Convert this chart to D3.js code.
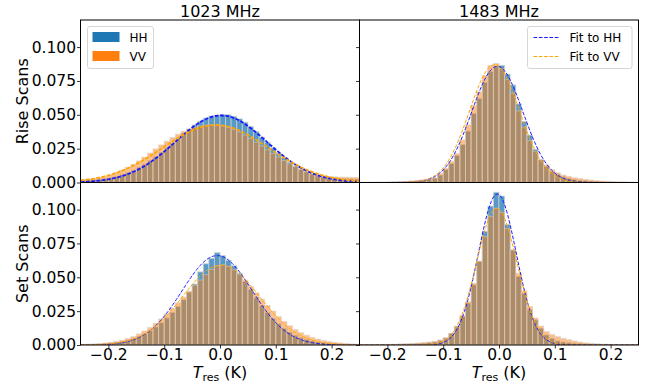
<!DOCTYPE html>
<html>
<head>
<meta charset="utf-8">
<script src="https://cdn.jsdelivr.net/npm/d3@7"></script>
<style>
  body { margin: 0; background: #fff; }
  svg { display: block; font-family: "DejaVu Sans", sans-serif; }
</style>
</head>
<body>
<div id="chart"></div>
<script>
// histogram bins: 0.01 wide, from -0.25 to 0.25 (fraction of scans per bin)
const binStart = -0.25;
const binWidth = 0.01;

const rise1023HH = [0.0015,0.0017,0.0020,0.0024,0.0029,0.0036,0.0045,0.0057,0.0072,0.0090,
  0.0110,0.0135,0.0162,0.0190,0.0222,0.0255,0.0290,0.0325,0.0362,0.0395,
  0.0425,0.0452,0.0475,0.0490,0.0498,0.0502,0.0500,0.0488,0.0470,0.0445,
  0.0412,0.0375,0.0335,0.0295,0.0255,0.0218,0.0183,0.0150,0.0122,0.0098,
  0.0078,0.0062,0.0050,0.0041,0.0035,0.0031,0.0029,0.0027,0.0026,0.0025];
const rise1023VV = [0.0022,0.0026,0.0030,0.0036,0.0045,0.0058,0.0074,0.0092,0.0112,0.0135,
  0.0160,0.0188,0.0218,0.0248,0.0278,0.0305,0.0332,0.0357,0.0378,0.0395,
  0.0408,0.0418,0.0424,0.0426,0.0424,0.0418,0.0408,0.0393,0.0373,0.0350,
  0.0325,0.0298,0.0270,0.0242,0.0215,0.0188,0.0162,0.0138,0.0117,0.0098,
  0.0082,0.0069,0.0058,0.0050,0.0045,0.0042,0.0040,0.0039,0.0038,0.0037];

const rise1483HH = [0.0001,0.0001,0.0001,0.0002,0.0002,0.0003,0.0004,0.0005,0.0007,0.0009,
  0.0012,0.0016,0.0022,0.0032,0.0055,0.0095,0.0140,0.0200,0.0280,0.0380,
  0.0510,0.0620,0.0740,0.0820,0.0860,0.0865,0.0800,0.0720,0.0580,0.0450,
  0.0350,0.0245,0.0167,0.0118,0.0081,0.0060,0.0042,0.0030,0.0022,0.0016,
  0.0012,0.0009,0.0007,0.0005,0.0004,0.0003,0.0002,0.0002,0.0001,0.0001];
const rise1483VV = [0.0001,0.0001,0.0002,0.0002,0.0003,0.0004,0.0005,0.0007,0.0009,0.0012,
  0.0016,0.0020,0.0025,0.0035,0.0065,0.0105,0.0155,0.0215,0.0315,0.0425,
  0.0570,0.0670,0.0790,0.0865,0.0880,0.0840,0.0760,0.0660,0.0530,0.0410,
  0.0310,0.0230,0.0170,0.0130,0.0095,0.0072,0.0055,0.0045,0.0036,0.0029,
  0.0023,0.0018,0.0014,0.0011,0.0009,0.0007,0.0005,0.0004,0.0003,0.0002];

const set1023HH = [0.0003,0.0004,0.0005,0.0007,0.0010,0.0014,0.0019,0.0026,0.0035,0.0047,
  0.0063,0.0083,0.0106,0.0133,0.0164,0.0200,0.0240,0.0285,0.0335,0.0390,
  0.0450,0.0540,0.0600,0.0640,0.0682,0.0660,0.0625,0.0585,0.0530,0.0470,
  0.0410,0.0350,0.0292,0.0240,0.0195,0.0156,0.0122,0.0095,0.0072,0.0054,
  0.0040,0.0030,0.0022,0.0016,0.0012,0.0009,0.0007,0.0005,0.0004,0.0003];
const set1023VV = [0.0005,0.0006,0.0008,0.0011,0.0015,0.0020,0.0027,0.0036,0.0048,0.0063,
  0.0082,0.0104,0.0130,0.0160,0.0193,0.0230,0.0270,0.0312,0.0355,0.0398,
  0.0440,0.0480,0.0520,0.0558,0.0585,0.0592,0.0580,0.0555,0.0520,0.0478,
  0.0432,0.0385,0.0338,0.0292,0.0250,0.0210,0.0174,0.0142,0.0114,0.0091,
  0.0072,0.0056,0.0044,0.0034,0.0026,0.0020,0.0015,0.0011,0.0008,0.0006];

const set1483HH = [0.0001,0.0001,0.0001,0.0002,0.0002,0.0003,0.0004,0.0005,0.0006,0.0008,
  0.0010,0.0013,0.0017,0.0022,0.0032,0.0050,0.0086,0.0136,0.0210,0.0309,
  0.0444,0.0617,0.0840,0.1025,0.1128,0.1100,0.0890,0.0704,0.0506,0.0380,
  0.0260,0.0185,0.0123,0.0074,0.0049,0.0030,0.0022,0.0016,0.0012,0.0009,
  0.0007,0.0005,0.0004,0.0003,0.0002,0.0002,0.0001,0.0001,0.0001,0.0001];
const set1483VV = [0.0002,0.0002,0.0003,0.0003,0.0004,0.0005,0.0006,0.0008,0.0010,0.0012,
  0.0015,0.0018,0.0022,0.0028,0.0038,0.0055,0.0085,0.0140,0.0218,0.0320,
  0.0455,0.0620,0.0800,0.0950,0.1010,0.0980,0.0860,0.0700,0.0530,0.0400,
  0.0285,0.0200,0.0140,0.0100,0.0078,0.0062,0.0050,0.0040,0.0030,0.0022,
  0.0016,0.0012,0.0009,0.0007,0.0005,0.0004,0.0003,0.0003,0.0002,0.0002];

// gaussian fits: [peak, mean, sigma]
const fitRise1023HH = [0.0495, 0.002, 0.082];
const fitRise1023VV = [0.0425, -0.008, 0.094];
const fitRise1483HH = [0.0858, -0.003, 0.046];
const fitRise1483VV = [0.0870, -0.008, 0.045];
const fitSet1023HH = [0.0660, -0.005, 0.063];
const fitSet1023VV = [0.0590, 0.002, 0.069];
const fitSet1483HH = [0.1115, -0.003, 0.034];
const fitSet1483VV = [0.1010, -0.004, 0.036];

const columnTitles = ['1023 MHz', '1483 MHz'];
const rowLabels = ['Rise Scans', 'Set Scans'];
const xTicks = [-0.2, -0.1, 0.0, 0.1, 0.2];
const yTicks = [0.000, 0.025, 0.050, 0.075, 0.100];
const legendBars = ['HH', 'VV'];
const legendFits = ['Fit to HH', 'Fit to VV'];

const panels = [
  { row: 0, col: 0, hh: rise1023HH, vv: rise1023VV, fitHH: fitRise1023HH, fitVV: fitRise1023VV, fitW: 1.8 },
  { row: 0, col: 1, hh: rise1483HH, vv: rise1483VV, fitHH: fitRise1483HH, fitVV: fitRise1483VV, fitW: 1 },
  { row: 1, col: 0, hh: set1023HH, vv: set1023VV, fitHH: fitSet1023HH, fitVV: fitSet1023VV, fitW: 1 },
  { row: 1, col: 1, hh: set1483HH, vv: set1483VV, fitHH: fitSet1483HH, fitVV: fitSet1483VV, fitW: 1 }
];

const width = 646, height = 388;
const marginLeft = 80.5, marginTop = 20, panelW = 279, panelH = 162.5;
const hhColor = '#1f77b4', vvColor = '#ff7f0e';
const fitHHColor = '#1a1aff', fitVVColor = '#ffa500';
const tickFont = 15.5;

const svg = d3.select('#chart').append('svg')
  .attr('width', width)
  .attr('height', height);

const x = d3.scaleLinear().domain([-0.25, 0.25]).range([0, panelW]);
const y = d3.scaleLinear().domain([0, 0.12]).range([panelH, 0]);

const defs = svg.append('defs');
defs.append('clipPath').attr('id', 'panel-clip')
  .append('rect').attr('width', panelW).attr('height', panelH);

function binsOf(values) {
  return values.map((v, i) => ({ x0: binStart + i * binWidth, x1: binStart + (i + 1) * binWidth, v: v }));
}

function fitLine(p) {
  const xs = d3.range(-0.25, 0.2501, 0.002);
  return xs.map(t => [t, p[0] * Math.exp(-((t - p[1]) ** 2) / (2 * p[2] * p[2]))]);
}

const line = d3.line().x(d => x(d[0])).y(d => y(d[1]));

panels.forEach(p => {
  const g = svg.append('g')
    .attr('transform', `translate(${marginLeft + p.col * panelW},${marginTop + p.row * panelH})`);

  g.append('rect').attr('width', panelW).attr('height', panelH).attr('fill', '#fff');

  const plot = g.append('g').attr('clip-path', 'url(#panel-clip)');

  [[p.hh, hhColor, 0.75], [p.vv, vvColor, 0.5]].forEach(([vals, color, alpha]) => {
    plot.append('g')
      .selectAll('rect')
      .data(binsOf(vals))
      .join('rect')
      .attr('x', d => x(d.x0))
      .attr('width', d => x(d.x1) - x(d.x0))
      .attr('y', d => y(d.v))
      .attr('height', d => y(0) - y(d.v))
      .attr('fill', color)
      .attr('fill-opacity', alpha)
      .attr('stroke', '#d3d3d3')
      .attr('stroke-opacity', alpha)
      .attr('stroke-width', 1);
  });

  [[p.fitHH, fitHHColor], [p.fitVV, fitVVColor]].forEach(([fp, color]) => {
    plot.append('path')
      .attr('d', line(fitLine(fp)))
      .attr('fill', 'none')
      .attr('stroke', color)
      .attr('stroke-width', p.fitW)
      .attr('stroke-dasharray', '3.7,1.6');
  });

  // y axis (labels only on the left column)
  const yAxis = d3.axisLeft(y).tickValues(yTicks).tickSize(3.5).tickPadding(1)
    .tickFormat(p.col === 0 ? d3.format('.3f') : '');
  const ya = g.append('g').call(yAxis);
  ya.select('.domain').remove();
  ya.selectAll('text').attr('font-size', tickFont).attr('font-family', '"DejaVu Sans", sans-serif').attr('fill', '#000');
  ya.selectAll('line').attr('stroke', '#000').attr('stroke-width', 0.8);

  if (p.row === 1) {
    const xAxis = d3.axisBottom(x).tickValues(xTicks).tickSize(3.5).tickPadding(0)
      .tickFormat(d => d3.format('.1f')(d).replace('-', '\u2212'));
    const xa = g.append('g').attr('transform', `translate(0,${panelH})`).call(xAxis);
    xa.select('.domain').remove();
    xa.selectAll('text').attr('font-size', tickFont).attr('font-family', '"DejaVu Sans", sans-serif').attr('fill', '#000');
    xa.selectAll('line').attr('stroke', '#000').attr('stroke-width', 0.8);

    const lab = g.append('text')
      .attr('x', panelW / 2)
      .attr('y', panelH + 32.5)
      .attr('text-anchor', 'middle')
      .attr('font-size', 16);
    lab.append('tspan').attr('font-style', 'italic').text('T');
    lab.append('tspan').attr('font-size', 11).attr('dy', 3).text('res');
    lab.append('tspan').attr('dy', -3).text(' (K)');
  }

  g.append('rect').attr('width', panelW).attr('height', panelH)
    .attr('fill', 'none').attr('stroke', '#000').attr('stroke-width', 1);

  if (p.row === 0) {
    g.append('text')
      .attr('x', panelW / 2)
      .attr('y', -3)
      .attr('text-anchor', 'middle')
      .attr('font-size', 16)
      .text(columnTitles[p.col]);
  }

  if (p.col === 0) {
    g.append('text')
      .attr('transform', `translate(-53,${panelH / 2}) rotate(-90)`)
      .attr('text-anchor', 'middle')
      .attr('font-size', 16)
      .text(rowLabels[p.row]);
  }

  // legends
  if (p.row === 0 && p.col === 0) {
    const lg = g.append('g').attr('transform', 'translate(7,6.5)');
    lg.append('rect').attr('width', 66).attr('height', 42).attr('rx', 2.5)
      .attr('fill', '#fff').attr('fill-opacity', 0.8).attr('stroke', '#ccc').attr('stroke-width', 0.8);
    legendBars.forEach((name, i) => {
      lg.append('rect').attr('x', 5).attr('y', 5.5 + i * 19).attr('width', 27).attr('height', 10)
        .attr('fill', i === 0 ? hhColor : vvColor);
      lg.append('text').attr('x', 42).attr('y', 15 + i * 19).attr('font-size', 12).text(name);
    });
  }
  if (p.row === 0 && p.col === 1) {
    const lg = g.append('g').attr('transform', `translate(${panelW - 111},6.5)`);
    lg.append('rect').attr('width', 104.5).attr('height', 42).attr('rx', 2.5)
      .attr('fill', '#fff').attr('fill-opacity', 0.8).attr('stroke', '#ccc').attr('stroke-width', 0.8);
    legendFits.forEach((name, i) => {
      lg.append('line').attr('x1', 6).attr('x2', 31).attr('y1', 11 + i * 19).attr('y2', 11 + i * 19)
        .attr('stroke', i === 0 ? fitHHColor : fitVVColor).attr('stroke-width', 1)
        .attr('stroke-dasharray', '3.7,1.6');
      lg.append('text').attr('x', 42).attr('y', 15.5 + i * 19).attr('font-size', 12).text(name);
    });
  }
});
</script>
</body>
</html>
